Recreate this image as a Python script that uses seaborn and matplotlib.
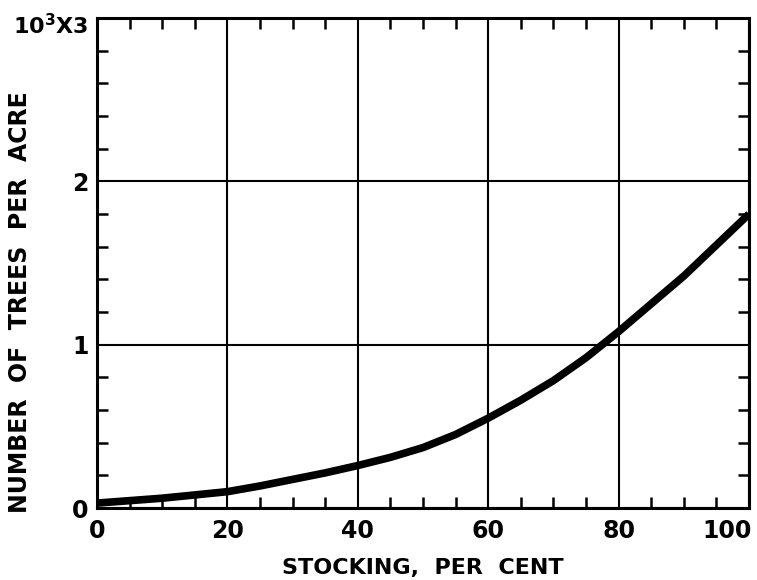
import matplotlib
matplotlib.use("Agg")
import matplotlib.pyplot as plt
from matplotlib.ticker import MultipleLocator
from matplotlib.transforms import ScaledTranslation
import seaborn as sns
import pandas as pd

# Stocking (per cent) vs. number of trees per acre (thousands)
stocking = [0, 5, 10, 15, 20, 25, 30, 35, 40, 45, 50,
            55, 60, 65, 70, 75, 80, 85, 90, 95, 100]
trees_thousands = [0.03, 0.045, 0.06, 0.08, 0.10, 0.135, 0.175, 0.215, 0.26, 0.31, 0.37,
                   0.45, 0.55, 0.66, 0.78, 0.92, 1.08, 1.25, 1.42, 1.61, 1.80]

x_ticks = [0, 20, 40, 60, 80, 100]
x_tick_labels = ["0", "20", "40", "60", "80", "100"]
y_ticks = [0, 1, 2, 3]
y_tick_labels = ["0", "1", "2", r"10$^{\mathbf{3}}$X3"]

sns.set_style("white")
plt.rcParams["font.family"] = ["DejaVu Sans"]
plt.rcParams["mathtext.fontset"] = "dejavusans"
plt.rcParams["text.color"] = "black"
plt.rcParams["axes.labelcolor"] = "black"

df = pd.DataFrame({"stocking": stocking, "trees": trees_thousands})

fig = plt.figure(figsize=(7.57, 5.80), dpi=100)
ax = fig.add_axes([97 / 757, 1 - 508 / 580, 652 / 757, 490 / 580])

sns.lineplot(data=df, x="stocking", y="trees", ax=ax, color="black",
             linewidth=5.5, solid_capstyle="butt", zorder=3)

ax.set_xlim(0, 100)
ax.set_ylim(0, 3)

ax.set_xticks(x_ticks)
ax.set_xticklabels(x_tick_labels)
ax.set_yticks(y_ticks)
ax.set_yticklabels(y_tick_labels)
ax.xaxis.set_minor_locator(MultipleLocator(5))
ax.yaxis.set_minor_locator(MultipleLocator(0.2))

ax.grid(True, which="major", color="black", linewidth=1.5)

for side in ["left", "right", "top", "bottom"]:
    ax.spines[side].set_visible(True)
    ax.spines[side].set_color("black")
    ax.spines[side].set_linewidth(2.2)

ax.tick_params(which="major", length=0, pad=8, labelsize=17,
               labelcolor="black")
ax.tick_params(which="minor", direction="in", length=8, width=1.8,
               color="black", top=True, right=True, bottom=True, left=True)
for lbl in ax.get_xticklabels() + ax.get_yticklabels():
    lbl.set_fontweight("bold")
ax.tick_params(axis="y", which="major", pad=6)

# keep the last x label inside the figure
last = ax.get_xticklabels()[-1]
last.set_horizontalalignment("right")
last.set_transform(last.get_transform() + ScaledTranslation(3 / 100, 0, fig.dpi_scale_trans))

# the top y label sits a little below the frame corner
top = ax.get_yticklabels()[-1]
top.set_transform(top.get_transform() + ScaledTranslation(0, -6 / 100, fig.dpi_scale_trans))
top.set_fontsize(16)

ax.set_xlabel("STOCKING,  PER  CENT", fontsize=16,
              fontweight="bold", labelpad=11)
ax.set_ylabel("NUMBER  OF  TREES  PER  ACRE", fontsize=17,
              fontweight="bold")
ax.yaxis.set_label_coords(-0.10, 0.42)

fig.savefig("out.png", dpi=100)
